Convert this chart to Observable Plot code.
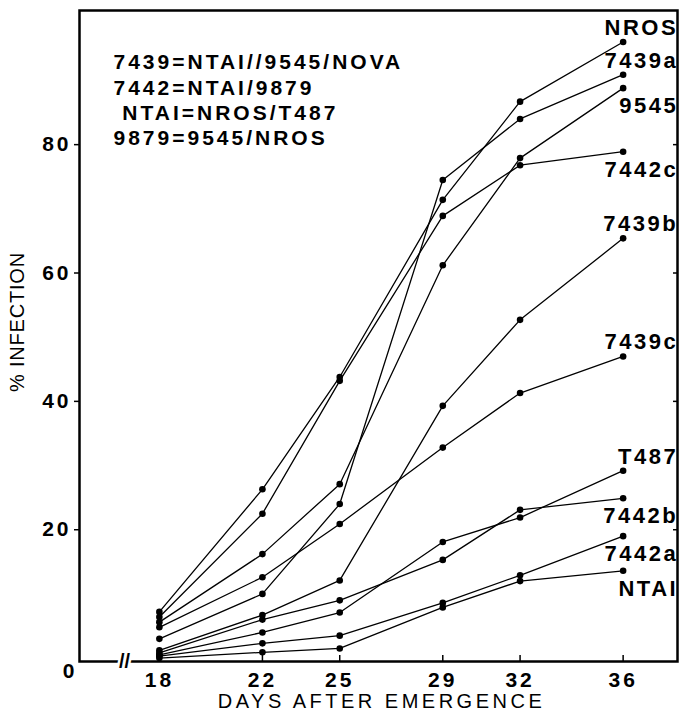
<!DOCTYPE html>
<html>
<head>
<meta charset="utf-8">
<script src="https://cdn.jsdelivr.net/npm/d3@7"></script>
<script src="https://cdn.jsdelivr.net/npm/@observablehq/plot@0.6"></script>
<style>
  html, body { margin: 0; padding: 0; background: #fff; }
  #chart svg { display: block; }
  g[aria-label="x-axis tick label"] text,
  g[aria-label="y-axis tick label"] text { letter-spacing: 3px; font-weight: bold; font-size: 21px; }
  g[aria-description="legend"] text { letter-spacing: 3px; }
  g[aria-description="series-label"] text { letter-spacing: 2.5px; }
  g[aria-description="axis-title-x"] text { letter-spacing: 3.5px; }
  g[aria-description="axis-title-y"] text { letter-spacing: 0.8px; }
</style>
</head>
<body>
<div id="chart"></div>
<script>
// Days after emergence (x values)
const days = [18, 22, 25, 29, 32, 36];

// % infection per line, one value per day
const NROS   = [7.2, 26.3, 43.8, 71.4, 86.7, 96.0];
const L7439a = [3.0, 10.0, 24.0, 74.5, 84.0, 90.9];
const L9545  = [5.6, 16.2, 27.1, 61.2, 77.9, 88.8];
const L7442c = [6.4, 22.5, 43.2, 68.9, 76.8, 78.9];
const L7439b = [1.2, 6.7, 12.1, 39.3, 52.7, 65.4];
const L7439c = [4.8, 12.6, 20.9, 32.8, 41.3, 47.0];
const T487   = [0.5, 4.0, 7.1, 18.1, 21.9, 29.2];
const L7442b = [0.8, 6.0, 9.0, 15.3, 23.1, 24.9];
const L7442a = [0.3, 2.3, 3.5, 8.6, 12.9, 19.0];
const NTAI   = [0.0, 0.9, 1.5, 7.9, 12.0, 13.6];

const seriesNames  = ["NROS", "7439a", "9545", "7442c", "7439b", "7439c", "T487", "7442b", "7442a", "NTAI"];
const seriesValues = [NROS, L7439a, L9545, L7442c, L7439b, L7439c, T487, L7442b, L7442a, NTAI];

// end labels placed above vs. below their last point
const labelsAbove = ["NROS", "7439a", "7439b", "7439c", "T487"];

// axis ticks
const xTicks = days;
const yTicks = [20, 40, 60, 80];
const yZero = [0];
const axisBreak = [16.65];

// pedigree legend
const legendLines = [
  "7439=NTAI//9545/NOVA",
  "7442=NTAI/9879",
  " NTAI=NROS/T487",
  "9879=9545/NROS"
];

const xDomain = [14.9, 38.11];
const yDomain = [-0.53, 100.9];

const table = seriesNames.flatMap((name, i) =>
  seriesValues[i].map((v, j) => ({series: name, day: days[j], value: v}))
);
const lastDay = days[days.length - 1];
const ends = table.filter(d => d.day === lastDay);

const chart = Plot.plot({
  width: 680,
  height: 712,
  marginLeft: 79,
  marginRight: 3,
  marginTop: 10,
  marginBottom: 51,
  style: {fontFamily: "'Liberation Sans', Arial, sans-serif", fontSize: "21px", color: "black", background: "white"},
  x: {domain: xDomain},
  y: {domain: yDomain},
  marks: [
    Plot.line(table, {x: "day", y: "value", z: "series", stroke: "black", strokeWidth: 1.3}),
    Plot.dot(table, {x: "day", y: "value", r: 3.3, fill: "black"}),
    Plot.text(ends.filter(d => labelsAbove.includes(d.series)), {
      x: "day", y: "value", text: "series", textAnchor: "end", dx: 55, dy: -14,
      fontSize: 22, fontWeight: "bold", fill: "black", ariaDescription: "series-label"
    }),
    Plot.text(ends.filter(d => !labelsAbove.includes(d.series)), {
      x: "day", y: "value", text: "series", textAnchor: "end", dx: 55, dy: 18,
      fontSize: 22, fontWeight: "bold", fill: "black", ariaDescription: "series-label"
    }),
    Plot.text([legendLines.join("\n")], {
      frameAnchor: "top-left", textAnchor: "start", lineAnchor: "top",
      dx: 34, dy: 41, lineHeight: 1.2, fontSize: 21, fontWeight: "bold",
      fill: "black", ariaDescription: "legend"
    }),
    Plot.frame({stroke: "black", strokeWidth: 2.5}),
    Plot.axisX(xTicks, {anchor: "bottom", tickSize: 0, tickPadding: 11, label: null, fontSize: 21, fontWeight: "bold"}),
    Plot.axisX(xTicks, {anchor: "bottom", tickSize: 6, dy: -6, tickFormat: () => "", label: null, strokeWidth: 1.5}),
    Plot.axisY(yTicks, {anchor: "left", tickSize: 5, tickPadding: 3, label: null, strokeWidth: 1.5, fontSize: 21, fontWeight: "bold"}),
    Plot.axisY(yTicks, {anchor: "right", tickSize: 5, dx: -5, tickFormat: () => "", label: null, strokeWidth: 1.5}),
    Plot.axisY(yZero, {anchor: "left", tickSize: 0, tickPadding: 2, dy: 13, label: null, fontSize: 21, fontWeight: "bold"}),
    Plot.text(axisBreak, {
      x: d => d, frameAnchor: "bottom", lineAnchor: "middle", text: () => "//", fontSize: 20, fontWeight: "bold",
      fill: "black", stroke: "white", strokeWidth: 5
    }),
    Plot.text(["DAYS AFTER EMERGENCE"], {
      frameAnchor: "bottom", lineAnchor: "middle", dy: 40, dx: 3, fontSize: 20, fill: "black", ariaDescription: "axis-title-x"
    }),
    Plot.text(["% INFECTION"], {
      frameAnchor: "left", textAnchor: "middle", lineAnchor: "middle", rotate: -90, dx: -62, dy: -14,
      fontSize: 20, fill: "black", ariaDescription: "axis-title-y"
    })
  ]
});

document.getElementById("chart").appendChild(chart);
</script>
</body>
</html>
